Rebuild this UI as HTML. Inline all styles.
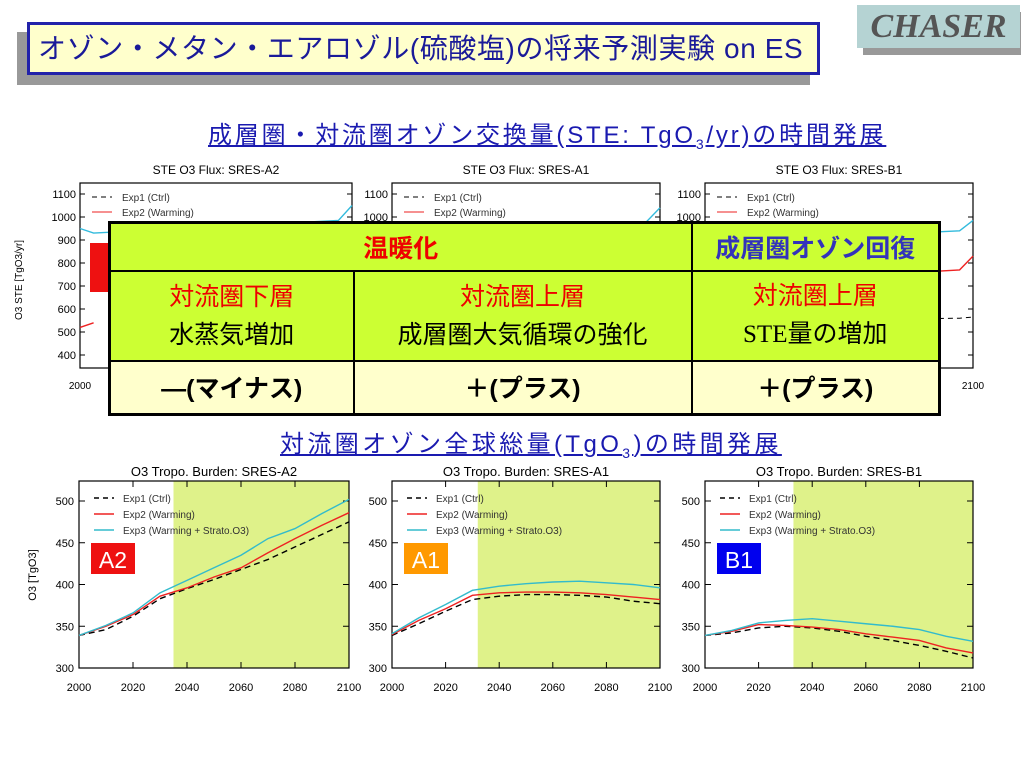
<!DOCTYPE html>
<html><head><meta charset="utf-8"><style>
body{margin:0;width:1024px;height:768px;background:#fff;position:relative;overflow:hidden;font-family:"Liberation Sans","Noto Sans CJK JP",sans-serif}
.abs{position:absolute}
#tbl{position:absolute;left:108px;top:221px;width:833px;height:195px;border:3px solid #000;box-sizing:border-box;border-collapse:collapse;table-layout:fixed}
#tbl td{border:2px solid #000;text-align:center;font-size:25px;padding:0;font-weight:normal}
</style></head><body>
<div class="abs" style="left:17px;top:32px;width:793px;height:53px;background:#999"></div>
<div class="abs" style="left:27px;top:22px;width:793px;height:53px;box-sizing:border-box;border:3px solid #2222aa;background:#ffffcc;color:#1a1a99;font-size:28px;letter-spacing:0.6px;line-height:47px;padding-left:8px;white-space:nowrap">オゾン・メタン・エアロゾル(硫酸塩)の将来予測実験 on ES</div>
<div class="abs" style="left:863px;top:12px;width:158px;height:43px;background:#999"></div>
<div class="abs" style="left:857px;top:5px;width:163px;height:43px;background:#b5d3d3;color:#555;font-family:'Liberation Serif',serif;font-style:italic;font-weight:bold;font-size:34px;line-height:43px;text-align:center">CHASER</div>
<div class="abs" style="left:208px;top:115px;color:#1a1ab0;font-size:24px;letter-spacing:2.8px;text-decoration:underline;white-space:nowrap">成層圏・対流圏オゾン交換量(STE: TgO<sub style="font-size:14px">3</sub>/yr)の時間発展</div>
<div class="abs" style="left:280px;top:424px;color:#1a1ab0;font-size:24px;letter-spacing:3.4px;text-decoration:underline;white-space:nowrap">対流圏オゾン全球総量(TgO<sub style="font-size:14px">3</sub>)の時間発展</div>
<svg id="sv" class="abs" style="left:0;top:0" width="1024" height="768"></svg>
<table id="tbl">
<colgroup><col style="width:244px"><col style="width:338px"><col></colgroup>
<tr style="height:48px;background:#ccff33"><td colspan="2" style="color:#e00;font-weight:bold">温暖化</td><td style="color:#3333bb;font-weight:bold">成層圏オゾン回復</td></tr>
<tr style="height:90px;background:#ccff33"><td style="line-height:38px"><span style="color:#e00">対流圏下層</span><br>水蒸気増加</td><td style="line-height:38px"><span style="color:#e00">対流圏上層</span><br>成層圏大気循環の強化</td><td style="line-height:38px"><span style="color:#e00">対流圏上層</span><br><span style="font-family:'Liberation Serif',serif">STE</span>量の増加</td></tr>
<tr style="background:#ffffcc"><td style="font-weight:bold">—(マイナス)</td><td style="font-weight:bold">＋(プラス)</td><td style="font-weight:bold">＋(プラス)</td></tr>
</table>
<script>
const years=[2000,2010,2020,2030,2040,2050,2060,2070,2080,2090,2100];
const a2Ctrl=[339,346,362,383,395,406,418,430,445,460,475];
const a2Warm=[339,350,364,386,396,409,420,438,455,471,486];
const a2Exp3=[339,351,366,390,405,420,435,455,467,485,502];
const a1Ctrl=[339,353,368,382,386,388,388,387,385,380,377];
const a1Warm=[340,357,371,387,390,391,391,390,388,385,382];
const a1Exp3=[341,360,376,393,398,401,403,404,402,400,396];
const b1Ctrl=[339,342,348,350,348,344,338,333,327,320,312];
const b1Warm=[339,344,352,351,349,346,341,337,333,324,318];
const b1Exp3=[339,345,354,357,359,356,353,350,346,338,332];
const shadeStart=[2035,2032,2033];
const burdenTicks=[300,350,400,450,500];
const yearTicks=[2000,2020,2040,2060,2080,2100];
const steTicks=[400,500,600,700,800,900,1000,1100];
const steYears=[2000,2005,2095,2100];
const steA2Exp3=[950,930,985,1050];
const steA1Exp3=[950,930,980,1040];
const steB1Exp3=[900,890,940,985];
const steB1Warm=[700,710,770,830];
const steB1Ctrl=[540,545,560,565];
const steA2Warm=[520,540,0,0];
const NS='http://www.w3.org/2000/svg';
const sv=document.getElementById('sv');
function mk(t,a,p){const e=document.createElementNS(NS,t);for(const k in a)e.setAttribute(k,a[k]);(p||sv).appendChild(e);return e;}
function txt(x,y,s,size,anchor,fill){const e=mk('text',{x:x,y:y,'font-size':size,'text-anchor':anchor||'middle',fill:fill||'#000','font-family':'Liberation Sans, sans-serif'});e.textContent=s;return e;}
const panels=[{x0:79,x1:349,title:'O3 Tropo. Burden: SRES-A2',s:[a2Ctrl,a2Warm,a2Exp3],lab:'A2',col:'#ee1111'},
{x0:392,x1:660,title:'O3 Tropo. Burden: SRES-A1',s:[a1Ctrl,a1Warm,a1Exp3],lab:'A1',col:'#ff9900'},
{x0:705,x1:973,title:'O3 Tropo. Burden: SRES-B1',s:[b1Ctrl,b1Warm,b1Exp3],lab:'B1',col:'#0000ee'}];
const by=v=>668-(v-300)*0.835;
panels.forEach((p,i)=>{
 const bx=y=>p.x0+(y-2000)/100*(p.x1-p.x0);
 const g=mk('g',{});
 
 
 const sh=mk('rect',{x:bx(shadeStart[i]),y:481,width:p.x1-bx(shadeStart[i]),height:187,fill:'#dff28a'},g);
 
 
 mk('rect',{x:p.x0,y:481,width:p.x1-p.x0,height:187,fill:'none',stroke:'#000','stroke-width':1.2},g);
 txt((p.x0+p.x1)/2,476,p.title,13);
 burdenTicks.forEach(t=>{mk('line',{x1:p.x0,x2:p.x0+6,y1:by(t),y2:by(t),stroke:'#000'},g);mk('line',{x1:p.x1,x2:p.x1-6,y1:by(t),y2:by(t),stroke:'#000'},g);txt(p.x0-5,by(t)+4,String(t),11,'end');});
 yearTicks.forEach(t=>{mk('line',{x1:bx(t),x2:bx(t),y1:668,y2:662,stroke:'#000'},g);mk('line',{x1:bx(t),x2:bx(t),y1:481,y2:487,stroke:'#000'},g);txt(bx(t),691,String(t),11);});
 const cols=['#000','#ee2222','#33bbcc'];
 p.s.forEach((d,k)=>{const pl=mk('polyline',{points:years.map((y,j)=>bx(y)+','+by(d[j])).join(' '),fill:'none',stroke:cols[k],'stroke-width':1.4,'stroke-dasharray':k==0?'6,4':'none'},g);
  
  });
 const names=['Exp1 (Ctrl)','Exp2 (Warming)','Exp3 (Warming + Strato.O3)'];
 names.forEach((n,k)=>{mk('line',{x1:p.x0+15,x2:p.x0+35,y1:498+k*16,y2:498+k*16,stroke:cols[k],'stroke-width':1.4,'stroke-dasharray':k==0?'5,4':'none'},g);txt(p.x0+44,502+k*16,n,10,'start','#333');});
 const lb=mk('rect',{x:p.x0+12,y:543,width:44,height:31,fill:p.col},g);
 
 
 txt(p.x0+34,568,p.lab,23,'middle','#fff');
});
mk('text',{x:36,y:575,'font-size':11,'text-anchor':'middle',transform:'rotate(-90 36 575)','font-family':'Liberation Sans'}).textContent='O3 [TgO3]';
const sy=v=>355-(v-400)*0.23;
const tp=[{x0:80,x1:352,t:'STE O3 Flux: SRES-A2',c:steA2Exp3},{x0:392,x1:660,t:'STE O3 Flux: SRES-A1',c:steA1Exp3},{x0:705,x1:973,t:'STE O3 Flux: SRES-B1',c:steB1Exp3}];
tp.forEach((p,i)=>{
 const sx=y=>p.x0+(y-2000)/100*(p.x1-p.x0);
 const g=mk('g',{});
 
 
 mk('rect',{x:p.x0,y:183,width:p.x1-p.x0,height:185,fill:'#fff',stroke:'#000','stroke-width':1.2},g);
 txt((p.x0+p.x1)/2,174,p.t,12);
 steTicks.forEach(t=>{mk('line',{x1:p.x0,x2:p.x0+5,y1:sy(t),y2:sy(t),stroke:'#000'},g);mk('line',{x1:p.x1,x2:p.x1-5,y1:sy(t),y2:sy(t),stroke:'#000'},g);txt(p.x0-4,sy(t)+4,String(t),11,'end');});
 txt(p.x0,389,'2000',10);txt(p.x1,389,'2100',10);
 mk('line',{x1:p.x0+12,x2:p.x0+32,y1:197,y2:197,stroke:'#000','stroke-dasharray':'5,4'},g);txt(p.x0+42,201,'Exp1 (Ctrl)',10,'start','#333');
 mk('line',{x1:p.x0+12,x2:p.x0+32,y1:212,y2:212,stroke:'#e22'},g);txt(p.x0+42,216,'Exp2 (Warming)',10,'start','#333');
 mk('polyline',{points:steYears.map((y,j)=>sx(y)+','+sy(p.c[j])).join(' '),fill:'none',stroke:'#33bbdd','stroke-width':1.4},g);
});
{const p=tp[2];const sx=y=>p.x0+(y-2000)/100*(p.x1-p.x0);
mk('polyline',{points:steYears.map((y,j)=>sx(y)+','+sy(steB1Warm[j])).join(' '),fill:'none',stroke:'#e22','stroke-width':1.4});
mk('polyline',{points:steYears.map((y,j)=>sx(y)+','+sy(steB1Ctrl[j])).join(' '),fill:'none',stroke:'#000','stroke-dasharray':'5,4'});
const q=tp[0];const qx=y=>q.x0+(y-2000)/100*(q.x1-q.x0);
mk('line',{x1:qx(2000),y1:sy(steA2Warm[0]),x2:qx(2005),y2:sy(steA2Warm[1]),stroke:'#e22','stroke-width':1.4});}
mk('rect',{x:90,y:243,width:20,height:49,fill:'#ee1111'});
mk('text',{x:22,y:280,'font-size':10,'text-anchor':'middle',transform:'rotate(-90 22 280)','font-family':'Liberation Sans'}).textContent='O3 STE [TgO3/yr]';
</script>
</body></html>
